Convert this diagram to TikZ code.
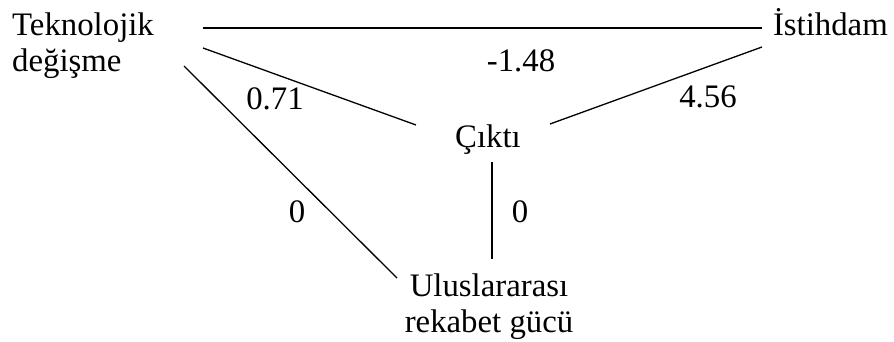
\documentclass[tikz,border=0pt]{standalone}
\usepackage{fontspec}
\setmainfont{Liberation Serif}
\begin{document}
\begin{tikzpicture}[x=1pt,y=-1pt,
  lbl/.style={inner sep=0pt,font=\fontsize{32.8}{36}\selectfont},
  multi/.style={lbl,align=left},
  link/.style={line width=1.3pt}]
\useasboundingbox (0,0) rectangle (894,342);
% variables (base anchor of a two-line node sits on its last line)
\node[multi,anchor=base west] (tek) at (12,72) {Teknolojik\\değişme};
\node[lbl,anchor=base east] (ist) at (888,36) {İstihdam};
\node[lbl,anchor=base] (cikti) at (488,148) {Çıktı};
\node[lbl,align=center,anchor=base] (ulus) at (489,332) {Uluslararası\\rekabet gücü};
% connector ends
\coordinate (tekA) at (203,28);
\coordinate (istA) at (762,28);
\coordinate (tekB) at (203,48);
\coordinate (cikL) at (416,125);
\coordinate (istB) at (762,47);
\coordinate (cikR) at (550,124);
\coordinate (tekC) at (184,66);
\coordinate (ulusL) at (397,278);
\coordinate (cikB) at (492,162);
\coordinate (ulusT) at (492,259);
% connectors
\draw[link] (tekA) -- (istA);
\draw[link] (tekB) -- (cikL);
\draw[link] (istB) -- (cikR);
\draw[link] (tekC) -- (ulusL);
\draw[link] (cikB) -- (ulusT);
% coefficients
\node[lbl,anchor=base] (w1) at (521,72) {-1.48};
\node[lbl,anchor=base] (w2) at (275,110) {0.71};
\node[lbl,anchor=base] (w3) at (708,108) {4.56};
\node[lbl,anchor=base] (w4) at (297,222) {0};
\node[lbl,anchor=base] (w5) at (520,222) {0};
\end{tikzpicture}
\end{document}
